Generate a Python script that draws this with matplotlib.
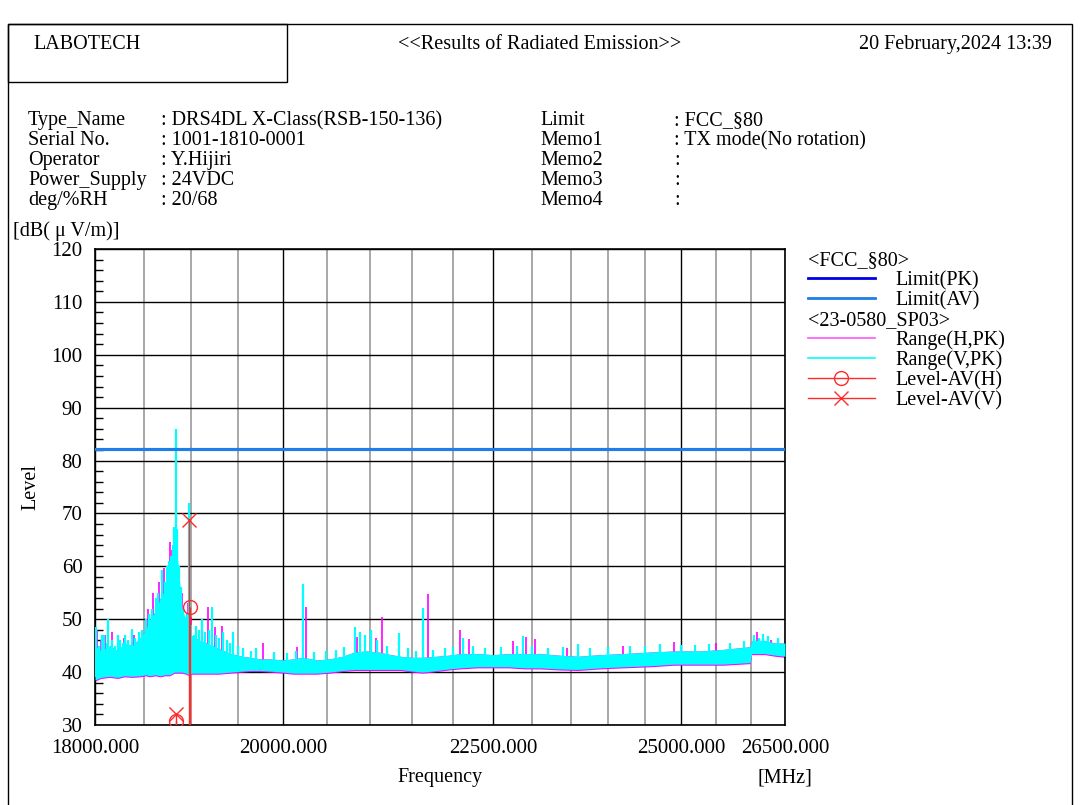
import numpy as np
import matplotlib.pyplot as plt
from matplotlib.lines import Line2D
from matplotlib.patches import Rectangle

plt.rcParams['font.family'] = ['Liberation Serif', 'DejaVu Serif']

W, H = 1081, 805

# --- header info ---
info_left = ["Type_Name", "Serial No.", "Operator", "Power_Supply", "deg/%RH"]
info_left_val = [": DRS4DL X-Class(RSB-150-136)", ": 1001-1810-0001", ": Y.Hijiri", ": 24VDC", ": 20/68"]
info_right = ["Limit", "Memo1", "Memo2", "Memo3", "Memo4"]
info_right_val = [": FCC_§80", ": TX mode(No rotation)", ":", ":", ":"]

# --- axis ticks (MHz, dB) ---
x_ticks = [18000, 20000, 22500, 25000, 26500]
x_tick_labels = ["18000.000", "20000.000", "22500.000", "25000.000", "26500.000"]
x_grid_minor = [18500, 19000, 19500, 20500, 21000, 21500, 22000, 23000, 23500, 24000, 24500, 25500, 26000]
y_ticks = [30, 40, 50, 60, 70, 80, 90, 100, 110, 120]

# --- limit ---
limit_freq = [18000, 26500]
limit_pk = [82.2, 82.2]
limit_av = [82.2, 82.2]

# --- noise band of the peak traces (MHz, dB(uV/m)) ---
band_freq = [18000, 18060, 18150, 18230, 18300, 18380, 18460, 18520, 18560, 18620,
             18670, 18720, 18770, 18800, 18820, 18850, 18880, 18900, 18940, 18975,
             19000, 19040, 19090, 19160, 19290, 19420, 19550, 19630, 19750, 19855,
             20000, 20120, 20230, 20380, 20530, 20680, 20820, 20950, 21100, 21250,
             21360, 21500, 21630, 21800, 21950, 22090, 22300, 22500, 22700, 22900,
             23100, 23350, 23600, 23890, 24200, 24570, 24900, 25270, 25600, 25985,
             26010, 26200, 26350, 26500]
v_low = [38.5, 39.0, 39.2, 39.0, 39.3, 39.2, 39.3, 39.5, 39.3, 39.5,
         39.3, 39.5, 39.5, 39.8, 40.0, 40.0, 40.0, 40.0, 39.8, 39.5,
         39.8, 39.8, 39.8, 39.8, 39.8, 40.0, 40.2, 40.3, 40.3, 40.2,
         40.0, 39.8, 39.8, 39.8, 40.0, 40.3, 40.5, 40.5, 40.5, 40.5,
         40.5, 40.2, 40.0, 40.3, 40.6, 40.8, 41.0, 41.0, 41.0, 40.8,
         40.8, 40.6, 40.5, 40.8, 41.0, 41.2, 41.5, 41.5, 41.5, 41.8,
         43.5, 43.5, 43.2, 43.0]
v_high = [45.0, 44.0, 45.0, 44.0, 45.5, 45.0, 46.5, 48.0, 50.0, 51.5,
          54.0, 55.5, 58.0, 60.0, 66.0, 62.0, 56.0, 52.0, 50.0, 48.5,
          47.0, 46.5, 46.0, 45.5, 44.5, 43.5, 43.0, 42.8, 42.5, 42.5,
          42.3, 42.5, 42.8, 42.3, 42.5, 43.0, 43.8, 44.0, 43.8, 43.3,
          43.0, 42.8, 42.8, 43.0, 43.2, 43.5, 43.5, 43.3, 43.5, 43.5,
          43.5, 43.2, 43.0, 43.3, 43.5, 43.8, 44.0, 44.0, 44.3, 44.8,
          46.0, 46.0, 45.5, 45.5]
h_low = [38.3, 38.8, 39.0, 38.8, 39.1, 39.0, 39.1, 39.3, 39.1, 39.3,
         39.1, 39.3, 39.3, 39.6, 39.8, 39.8, 39.8, 39.8, 39.6, 39.3,
         39.6, 39.6, 39.6, 39.6, 39.6, 39.8, 40.0, 40.1, 40.1, 40.0,
         39.8, 39.6, 39.6, 39.6, 39.8, 40.1, 40.3, 40.3, 40.3, 40.3,
         40.3, 40.0, 39.8, 40.1, 40.4, 40.6, 40.8, 40.8, 40.8, 40.6,
         40.6, 40.4, 40.3, 40.6, 40.8, 41.0, 41.3, 41.3, 41.3, 41.6,
         43.3, 43.3, 43.0, 42.8]
h_high = [45.0, 44.0, 45.0, 44.0, 45.5, 45.0, 46.5, 48.0, 50.0, 51.5,
          54.0, 55.5, 58.0, 60.0, 64.0, 60.0, 55.0, 51.5, 49.5, 48.0,
          46.5, 46.5, 46.0, 45.5, 44.5, 43.5, 43.0, 42.8, 42.5, 42.5,
          42.3, 42.5, 42.8, 42.3, 42.5, 43.0, 43.8, 44.0, 43.8, 43.3,
          43.0, 42.8, 42.8, 43.0, 43.2, 43.5, 43.5, 43.3, 43.5, 43.5,
          43.5, 43.2, 43.0, 43.3, 43.5, 43.8, 44.0, 44.0, 44.3, 44.8,
          46.0, 46.0, 45.5, 45.5]

# --- single spikes above the band ---
v_spike_freq = [18000, 18010, 18040, 18070, 18090, 18120, 18136, 18170, 18200, 18230,
                18250, 18280, 18310, 18340, 18378, 18410, 18449, 18480, 18520, 18550,
                18580, 18612, 18630, 18650, 18693, 18720, 18740, 18760, 18780, 18800,
                18815, 18836, 18850, 18870, 18890, 18910, 18930, 18950, 18974, 19000,
                19030, 19050, 19080, 19110, 19140, 19190, 19220, 19260, 19300, 19339,
                19380, 19420, 19448, 19500, 19560, 19640, 19700, 19900, 20050, 20150,
                20226, 20350, 20488, 20600, 20700, 20824, 20882, 20941, 21012, 21080,
                21200, 21344, 21450, 21550, 21633, 21750, 21900, 22000, 22123, 22250,
                22400, 22600, 22800, 22880, 23000, 23200, 23400, 23596, 23750, 24000,
                24300, 24500, 24700, 25000, 25200, 25400, 25700, 25900, 26050, 26120,
                26175, 26250, 26400]
v_spike_level = [46.0, 48.5, 45.0, 47.0, 47.0, 45.5, 50.0, 46.0, 45.0, 47.0,
                 46.0, 45.5, 47.0, 46.0, 48.2, 46.5, 47.6, 48.0, 50.0, 51.0,
                 52.0, 48.5, 54.0, 55.0, 59.3, 57.0, 60.0, 61.0, 62.0, 64.0,
                 67.4, 86.0, 67.0, 60.0, 56.0, 52.0, 50.0, 51.0, 72.0, 49.0,
                 47.0, 48.7, 48.0, 50.0, 47.5, 48.0, 52.3, 47.0, 46.5, 47.6,
                 46.0, 45.5, 47.6, 45.0, 44.5, 44.0, 44.5, 43.8, 43.6, 44.0,
                 56.7, 43.8, 44.0, 44.2, 44.8, 48.5, 47.6, 47.0, 48.0, 46.0,
                 45.0, 47.4, 44.5, 44.0, 52.1, 44.2, 44.5, 44.8, 46.5, 45.0,
                 44.6, 44.8, 45.0, 46.8, 45.0, 44.6, 44.8, 45.3, 44.5, 44.7,
                 45.0, 45.0, 45.3, 45.2, 45.2, 45.3, 45.5, 45.8, 47.0, 46.5,
                 47.2, 46.8, 46.5]
h_spike_freq = [18005, 18020, 18060, 18100, 18172, 18300, 18400, 18540, 18600, 18660,
                18710, 18773, 18790, 18900, 18960, 19000, 19177, 19250, 19330, 19777,
                20160, 20260, 20847, 21070, 21141, 21694, 22086, 22198, 22752, 22918,
                23034, 23451, 24200, 24901, 25500, 26087, 26300]
h_spike_level = [49.0, 48.0, 46.0, 47.0, 47.6, 46.5, 47.0, 52.0, 55.0, 57.0,
                 59.7, 64.6, 63.0, 55.0, 53.0, 50.5, 52.3, 48.5, 48.8, 45.5,
                 44.8, 52.3, 46.6, 46.5, 50.4, 54.8, 48.0, 46.3, 45.9, 46.6,
                 46.3, 44.6, 45.0, 45.7, 45.5, 47.6, 46.0]

# --- final AV measurement points ---
level_h_freq = [18836, 18980]
level_h = [30.8, 52.3]
level_v_freq = [18836, 18972]
level_v = [32.1, 68.8]

MAGENTA = "#ff00ff"
CYAN = "#00ffff"
RED = "#ff2a2a"
BLUE_PK = "#0000e6"
BLUE_AV = "#1e7fe6"


def fx(x):
    return x / W


def fy(y):
    return 1 - y / H


fig = plt.figure(figsize=(W / 100, H / 100), dpi=100)

# frames
fig.add_artist(Rectangle((fx(8), fy(812)), fx(1072) - fx(8), fy(24) - fy(812),
                         transform=fig.transFigure, fill=False, lw=1.0, ec="black"))
fig.add_artist(Rectangle((fx(8), fy(82)), fx(287) - fx(8), fy(24) - fy(82),
                         transform=fig.transFigure, fill=False, lw=1.0, ec="black"))

fs = 14.5
fig.text(fx(33), fy(49), "LABOTECH", fontsize=fs, va="baseline", ha="left")
fig.text(fx(540), fy(49), "<<Results of Radiated Emission>>", fontsize=fs, va="baseline", ha="center")
fig.text(fx(1052), fy(49), "20 February,2024 13:39", fontsize=fs, va="baseline", ha="right")

for i in range(len(info_left)):
    y = 125 + 20 * i
    fig.text(fx(28), fy(y), info_left[i], fontsize=fs, va="baseline")
    fig.text(fx(161), fy(y), info_left_val[i], fontsize=fs, va="baseline")
    fig.text(fx(540), fy(y), info_right[i], fontsize=fs, va="baseline")
    fig.text(fx(674), fy(y), info_right_val[i], fontsize=fs, va="baseline")

fig.text(fx(13), fy(236), "[dB( μ V/m)]", fontsize=fs, va="baseline")
fig.text(fx(31), fy(487), "Level", fontsize=fs, va="center", ha="center", rotation=90)
fig.text(fx(440), fy(782), "Frequency", fontsize=fs, va="baseline", ha="center")
fig.text(fx(785), fy(782), "[MHz]", fontsize=fs, va="baseline", ha="center")

# plot area
ax = fig.add_axes([fx(95), fy(725), fx(785) - fx(95), fy(249) - fy(725)])
ax.set_xscale("log")
ax.set_xlim(18000, 26500)
ax.set_ylim(30, 120)

# spikes start from the bottom of the band they belong to
h_spike_base = np.interp(h_spike_freq, band_freq, h_low) + 0.5
v_spike_base = np.interp(v_spike_freq, band_freq, v_low) + 0.5

ax.fill_between(band_freq, h_low, h_high, color=MAGENTA, lw=0, zorder=2)
ax.vlines(h_spike_freq, h_spike_base, h_spike_level, color=MAGENTA, lw=1.2, zorder=2)
ax.fill_between(band_freq, v_low, v_high, color=CYAN, lw=0, zorder=3)
ax.vlines(v_spike_freq, v_spike_base, v_spike_level, color=CYAN, lw=1.6, zorder=3)

ax.plot(limit_freq, limit_pk, color=BLUE_PK, lw=2.2, zorder=4)
ax.plot(limit_freq, limit_av, color=BLUE_AV, lw=2.2, zorder=4)

ax.vlines(level_h_freq, 30, level_h, color=RED, lw=1.0, zorder=5)
ax.vlines(level_v_freq, 30, level_v, color=RED, lw=1.0, zorder=5)
ax.plot(level_h_freq, level_h, ls="none", marker="o", ms=10, mfc="none", mec=RED, mew=1.0, zorder=6)
ax.plot(level_v_freq, level_v, ls="none", marker="x", ms=10, mec=RED, mew=1.0, zorder=6)

ax.set_xticks(x_ticks)
ax.set_xticklabels(x_tick_labels, fontsize=15)
ax.set_xticks(x_grid_minor, minor=True)
ax.set_xticklabels([], minor=True)
ax.set_yticks(y_ticks)
ax.set_yticklabels([str(v) for v in y_ticks], fontsize=15)
ax.set_yticks(range(30, 121, 2), minor=True)

ax.tick_params(axis="x", which="both", length=0, pad=10)
ax.tick_params(axis="y", which="major", length=0, pad=9)
ax.tick_params(axis="y", which="minor", direction="in", length=6, width=1.0)

ax.grid(which="major", color="black", lw=1.0, zorder=1)
ax.xaxis.grid(which="minor", color="#999999", lw=1.2, zorder=1)
ax.set_axisbelow(True)
for sp in ax.spines.values():
    sp.set_linewidth(1.2)

# legend drawn by hand
legend_rows = [
    ("<FCC_§80>", None),
    ("Limit(PK)", dict(color=BLUE_PK, lw=2.0)),
    ("Limit(AV)", dict(color=BLUE_AV, lw=2.0)),
    ("<23-0580_SP03>", None),
    ("Range(H,PK)", dict(color="#ff55ff", lw=1.2)),
    ("Range(V,PK)", dict(color=CYAN, lw=1.2)),
    ("Level-AV(H)", dict(color=RED, lw=1.0, marker="o")),
    ("Level-AV(V)", dict(color=RED, lw=1.0, marker="x")),
]
for i, (label, style) in enumerate(legend_rows):
    y = 265 + 20 * i
    if style is None:
        fig.text(fx(808), fy(y), label, fontsize=fs, va="baseline")
        continue
    style = dict(style)
    marker = style.pop("marker", None)
    fig.add_artist(Line2D([fx(808), fx(875)], [fy(y - 7), fy(y - 7)], transform=fig.transFigure, **style))
    if marker:
        fig.add_artist(Line2D([fx(841)], [fy(y - 7)], transform=fig.transFigure, ls="none", marker=marker,
                              ms=10, mfc="none", mec=RED, mew=1.0))
    fig.text(fx(895), fy(y), label, fontsize=fs, va="baseline")

plt.savefig("out.png", dpi=100)
